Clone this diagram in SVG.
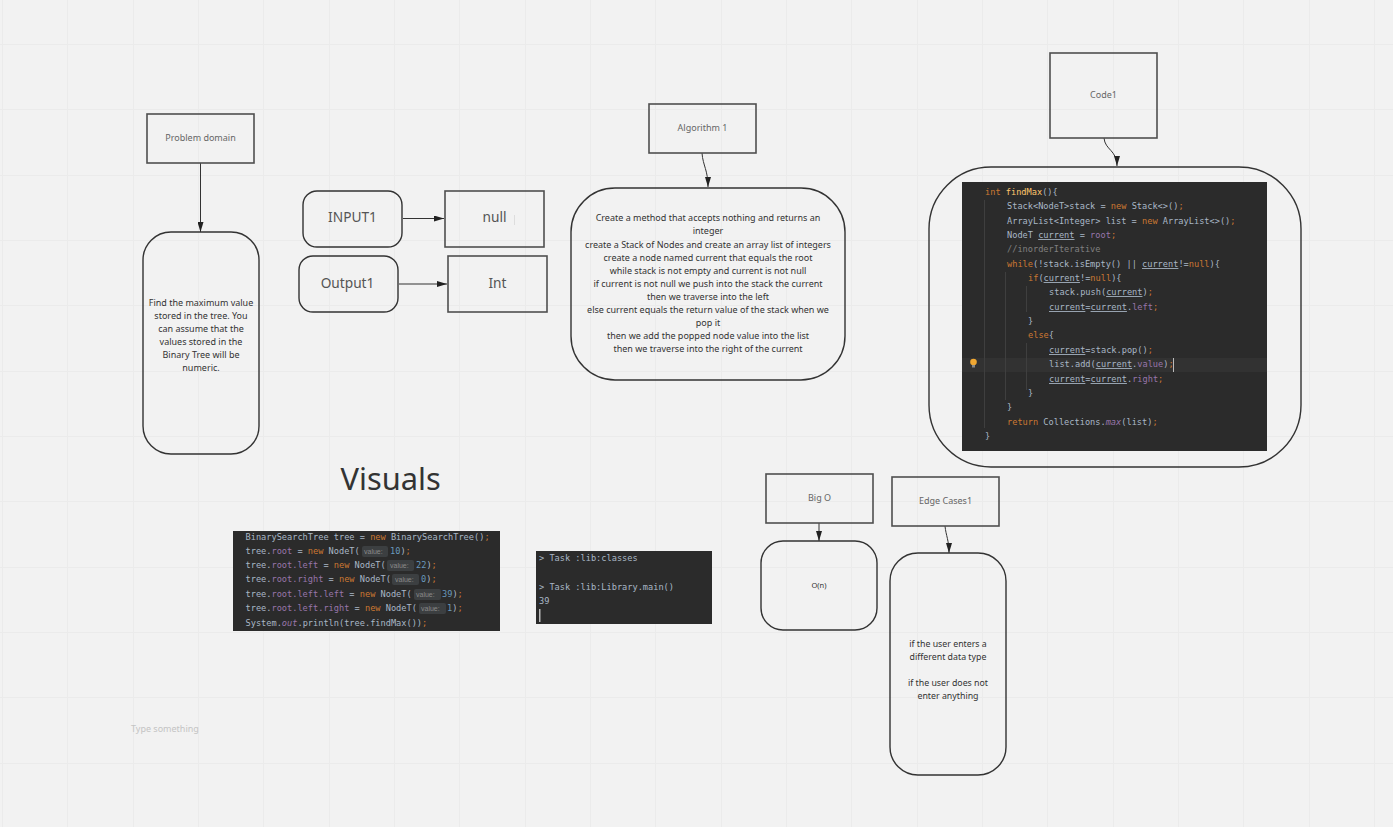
<svg xmlns="http://www.w3.org/2000/svg" width="1393" height="827" viewBox="0 0 1393 827">
<style>
.bx{fill:none;stroke:#4f4f4f;stroke-width:1.6}
.rd{fill:none;stroke:#333;stroke-width:1.4}
.c{stroke:#333;stroke-width:1;fill:none;marker-end:url(#ah)}
text{font-family:"Noto Sans","Open Sans","Liberation Sans",sans-serif;fill:#4a4a4a}
.t{text-anchor:middle;font-size:9px;fill:#666}
.b{text-anchor:middle;font-size:9px;fill:#333}
.l{text-anchor:middle;font-size:13.700px;fill:#555}
.m text,text.m{font-family:"DejaVu Sans Mono","Liberation Mono",monospace;font-size:8.65px;fill:#a9b7c6}
.k{fill:#cc7832}.f{fill:#ffc66d}.p{fill:#9876aa}.n{fill:#6897bb}.g{fill:#808080}.u{text-decoration:underline}
.h{font-size:7px;fill:#8a8a8a;font-family:"Liberation Sans",sans-serif}
.hb{fill:#3c3f41}
#grid path{stroke:#ebebeb;stroke-width:1;fill:none}
</style>
<defs><marker id="ah" markerWidth="10" markerHeight="6" refX="10" refY="3" orient="auto" markerUnits="userSpaceOnUse"><path d="M0 0L10 3L0 6Z" fill="#222"/></marker></defs>
<rect width="1393" height="827" fill="#f2f2f2"/>
<g id="grid"><path d="M2.500 0V827M67.500 0V827M133.500 0V827M198.500 0V827M263.500 0V827M329.500 0V827M394.500 0V827M459.500 0V827M525.500 0V827M590.500 0V827M655.500 0V827M721.500 0V827M786.500 0V827M851.500 0V827M917.500 0V827M982.500 0V827M1047.500 0V827M1113.500 0V827M1178.500 0V827M1243.500 0V827M1309.500 0V827M1374.500 0V827M0 44.500H1393M0 109.500H1393M0 175.500H1393M0 240.500H1393M0 305.500H1393M0 371.500H1393M0 436.500H1393M0 501.500H1393M0 567.500H1393M0 632.500H1393M0 697.500H1393M0 763.500H1393"/></g>
<g id="connectors">
<path class="c" d="M200.500 163V232"/>
<path class="c" d="M403 218.500H444"/>
<path class="c" d="M399 284H447"/>
<path class="c" d="M702 153C703 166 708 170 708 187"/>
<path class="c" d="M1104 138C1105 150 1117 150 1117 166"/>
<path class="c" d="M819 523V541"/>
<path class="c" d="M945 526C946 536 949 540 949 553"/>
</g>
<g id="problem-domain"><rect class="bx" x="147" y="114" width="107" height="49"/><text class="t" x="200.500" y="141">Problem domain</text></g>
<g id="problem-text"><rect class="rd" x="143" y="232" width="116" height="222" rx="28"/>
<text class="b"><tspan x="201" y="306">Find the maximum value</tspan><tspan x="201" y="319">stored in the tree. You</tspan><tspan x="201" y="332">can assume that the</tspan><tspan x="201" y="345">values stored in the</tspan><tspan x="201" y="358">Binary Tree will be</tspan><tspan x="201" y="371">numeric.</tspan></text></g>
<g id="input1"><rect class="rd" x="303" y="191" width="99" height="56" rx="14"/><text class="l" x="352.500" y="222">INPUT1</text></g>
<g id="null"><rect class="bx" x="445" y="191" width="99" height="56"/><text class="l" x="494.500" y="222">null</text><path d="M514.500 215V225" stroke="#ddd" stroke-width="1"/></g>
<g id="output1"><rect class="rd" x="299" y="256" width="99" height="56" rx="14"/><text class="l" x="347.500" y="288">Output1</text></g>
<g id="int"><rect class="bx" x="448" y="256" width="99" height="56"/><text class="l" x="497.500" y="288">Int</text></g>
<g id="algorithm-1"><rect class="bx" x="649" y="104" width="107" height="49"/><text class="t" x="702.500" y="131">Algorithm 1</text></g>
<g id="algorithm-text"><rect class="rd" x="571" y="188" width="274" height="192" rx="44"/>
<text class="b"><tspan x="708" y="221">Create a method that accepts nothing and returns an</tspan><tspan x="708" y="234">integer</tspan><tspan x="708" y="248">create a Stack of Nodes and create an array list of integers</tspan><tspan x="708" y="261">create a node named current that equals the root</tspan><tspan x="708" y="274">while stack is not empty and current is not null</tspan><tspan x="708" y="287">if current is not null we push into the stack the current</tspan><tspan x="708" y="300">then we traverse into the left</tspan><tspan x="708" y="313">else current equals the return value of the stack when we</tspan><tspan x="708" y="326">pop it</tspan><tspan x="708" y="339">then we add the popped node value into the list</tspan><tspan x="708" y="352">then we traverse into the right of the current</tspan></text></g>
<g id="code1"><rect class="bx" x="1050" y="53" width="107" height="85"/><text class="t" x="1103.500" y="98">Code1</text></g>
<g id="code-frame"><rect class="rd" x="929" y="167" width="372" height="300" rx="62"/></g>
<g id="code-shot" class="m">
<rect x="962" y="182" width="305" height="269" fill="#2b2b2b"/>
<rect x="962" y="358" width="305" height="14" fill="#323232"/>
<path d="M984.500 200V428M1005.500 272V400M1026.500 286V312M1026.500 343V390" stroke="#3f3f3f" stroke-width="1" fill="none"/>
<circle cx="973.500" cy="362" r="3.300" fill="#f0a732"/><rect x="972" y="365" width="3" height="2.500" fill="#888"/>
<path d="M1173.500 358V372" stroke="#bbb" stroke-width="1"/>
<text x="985" y="195"><tspan class="k">int</tspan> <tspan class="f">findMax</tspan>(){</text>
<text x="1007" y="209">Stack&lt;NodeT&gt;stack = <tspan class="k">new</tspan> Stack&lt;&gt;()<tspan class="k">;</tspan></text>
<text x="1007" y="224">ArrayList&lt;Integer&gt; list = <tspan class="k">new</tspan> ArrayList&lt;&gt;()<tspan class="k">;</tspan></text>
<text x="1007" y="238">NodeT <tspan class="u">current</tspan> = <tspan class="p">root</tspan><tspan class="k">;</tspan></text>
<text x="1007" y="252"><tspan class="g">//inorderIterative</tspan></text>
<text x="1007" y="267"><tspan class="k">while</tspan>(!stack.isEmpty() || <tspan class="u">current</tspan>!=<tspan class="k">null</tspan>){</text>
<text x="1028" y="281"><tspan class="k">if</tspan>(<tspan class="u">current</tspan>!=<tspan class="k">null</tspan>){</text>
<text x="1049" y="295">stack.push(<tspan class="u">current</tspan>)<tspan class="k">;</tspan></text>
<text x="1049" y="310"><tspan class="u">current</tspan>=<tspan class="u">current</tspan>.<tspan class="p">left</tspan><tspan class="k">;</tspan></text>
<text x="1028" y="324">}</text>
<text x="1028" y="338"><tspan class="k">else</tspan>{</text>
<text x="1049" y="353"><tspan class="u">current</tspan>=stack.pop()<tspan class="k">;</tspan></text>
<text x="1049" y="367">list.add(<tspan class="u">current</tspan>.<tspan class="p">value</tspan>)<tspan class="k">;</tspan></text>
<text x="1049" y="382"><tspan class="u">current</tspan>=<tspan class="u">current</tspan>.<tspan class="p">right</tspan><tspan class="k">;</tspan></text>
<text x="1028" y="396">}</text>
<text x="1007" y="410">}</text>
<text x="1007" y="425"><tspan class="k">return</tspan> Collections.<tspan class="p" font-style="italic">max</tspan>(list)<tspan class="k">;</tspan></text>
<text x="985" y="439">}</text>
</g>
<g id="visuals"><text x="340.500" y="490" font-size="30.800" style="fill:#333">Visuals</text></g>
<g id="visuals-code" class="m">
<rect x="233" y="531" width="267" height="100" fill="#2b2b2b"/>
<rect class="hb" x="362" y="546" width="26" height="11" rx="2"/><rect class="hb" x="387" y="560" width="27" height="11" rx="2"/><rect class="hb" x="392" y="574" width="27" height="11" rx="2"/><rect class="hb" x="414" y="589" width="27" height="11" rx="2"/><rect class="hb" x="419" y="603" width="27" height="11" rx="2"/>
<text x="245.500" y="540">BinarySearchTree tree = <tspan class="k">new</tspan> BinarySearchTree()<tspan class="k">;</tspan></text>
<text x="245.500" y="554">tree.<tspan class="p">root</tspan> = <tspan class="k">new</tspan> NodeT(</text><text class="h" x="364" y="554" style="font-family:'Liberation Sans',sans-serif;font-size:7px;fill:#8a8a8a">value:</text><text x="390" y="554"><tspan class="n">10</tspan>)<tspan class="k">;</tspan></text>
<text x="245.500" y="568">tree.<tspan class="p">root.left</tspan> = <tspan class="k">new</tspan> NodeT(</text><text class="h" x="390" y="568" style="font-family:'Liberation Sans',sans-serif;font-size:7px;fill:#8a8a8a">value:</text><text x="416" y="568"><tspan class="n">22</tspan>)<tspan class="k">;</tspan></text>
<text x="245.500" y="582">tree.<tspan class="p">root.right</tspan> = <tspan class="k">new</tspan> NodeT(</text><text class="h" x="395" y="582" style="font-family:'Liberation Sans',sans-serif;font-size:7px;fill:#8a8a8a">value:</text><text x="421" y="582"><tspan class="n">0</tspan>)<tspan class="k">;</tspan></text>
<text x="245.500" y="597">tree.<tspan class="p">root.left.left</tspan> = <tspan class="k">new</tspan> NodeT(</text><text class="h" x="416" y="597" style="font-family:'Liberation Sans',sans-serif;font-size:7px;fill:#8a8a8a">value:</text><text x="442" y="597"><tspan class="n">39</tspan>)<tspan class="k">;</tspan></text>
<text x="245.500" y="611">tree.<tspan class="p">root.left.right</tspan> = <tspan class="k">new</tspan> NodeT(</text><text class="h" x="421" y="611" style="font-family:'Liberation Sans',sans-serif;font-size:7px;fill:#8a8a8a">value:</text><text x="447" y="611"><tspan class="n">1</tspan>)<tspan class="k">;</tspan></text>
<text x="245.500" y="626">System.<tspan class="p" font-style="italic">out</tspan>.println(tree.findMax())<tspan class="k">;</tspan></text>
</g>
<g id="console" class="m">
<rect x="536" y="551" width="176" height="73" fill="#2b2b2b"/>
<text x="539" y="561">&gt; Task :lib:classes</text>
<text x="539" y="590">&gt; Task :lib:Library.main()</text>
<text x="539" y="604">39</text>
<rect x="539" y="609" width="1.500" height="13" fill="#bbb"/>
</g>
<g id="big-o"><rect class="bx" x="766" y="474" width="107" height="49"/><text class="t" x="819.500" y="501">Big O</text></g>
<g id="big-o-text"><rect class="rd" x="761" y="541" width="116" height="89" rx="22"/><text class="b" x="819" y="588" style="font-size:7.500px">O(n)</text></g>
<g id="edge-cases1"><rect class="bx" x="892" y="477" width="107" height="49"/><text class="t" x="945.500" y="504">Edge Cases1</text></g>
<g id="edge-text"><rect class="rd" x="890" y="553" width="116" height="222" rx="28"/>
<text class="b" style="font-size:8.800px"><tspan x="948" y="647">if the user enters a</tspan><tspan x="948" y="660">different data type</tspan><tspan x="948" y="686">if the user does not</tspan><tspan x="948" y="699">enter anything</tspan></text></g>
<g id="placeholder"><text x="131" y="732" font-size="9" style="fill:#c4c4c4">Type something</text></g>
</svg>
